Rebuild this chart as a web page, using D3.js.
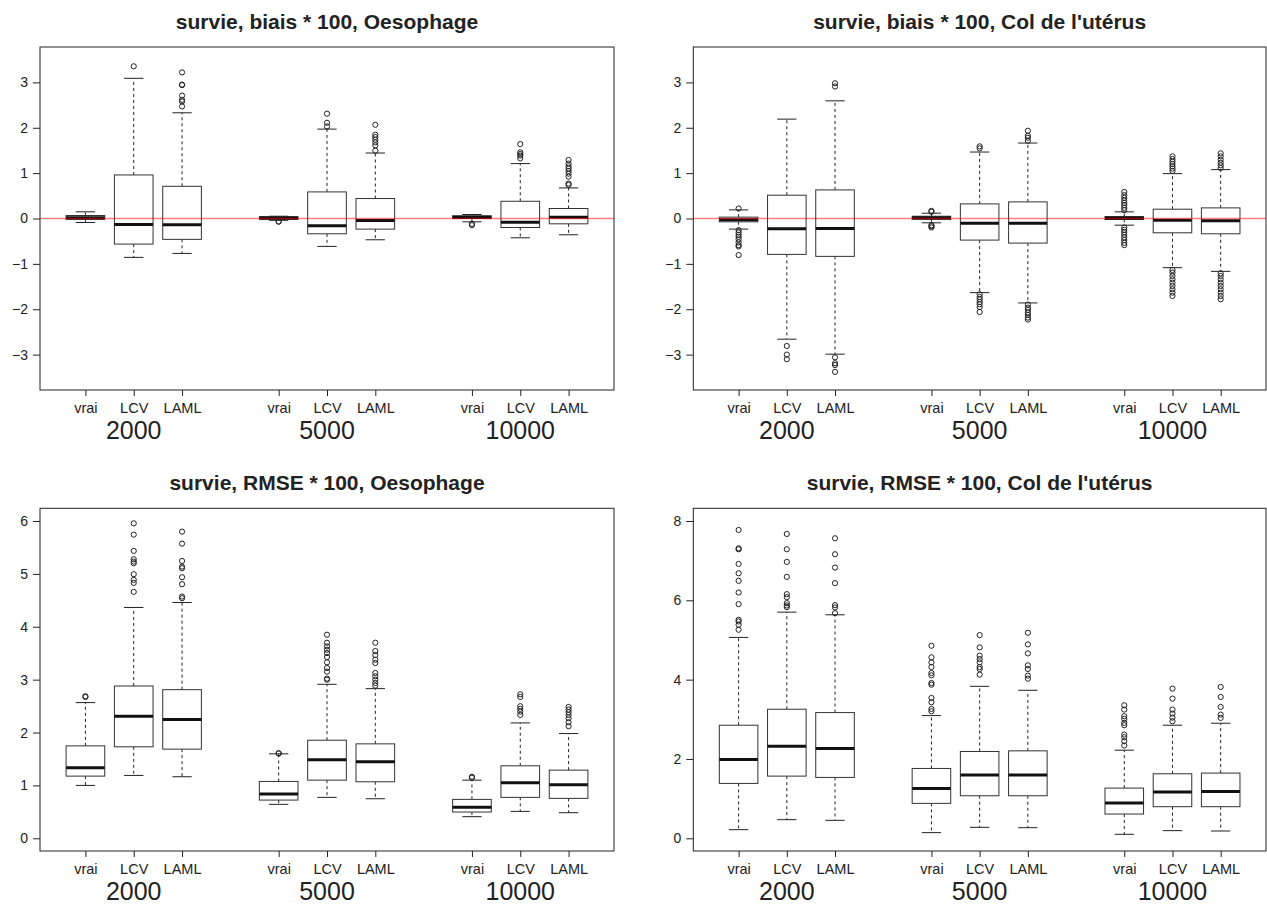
<!DOCTYPE html>
<html><head><meta charset="utf-8">
<script src="https://cdn.jsdelivr.net/npm/d3@7"></script>
<style>
body{margin:0;background:#fff;}
svg text{font-family:"Liberation Sans",Arial,Helvetica,sans-serif;fill:#222;}
</style></head>
<body><svg id="chart" width="1267" height="905"></svg>
<script>
// ---- categories ----
const methods = ["vrai", "LCV", "LAML"];
const sizes = ["2000", "5000", "10000"];
const titles = [
  "survie, biais * 100, Oesophage",
  "survie, biais * 100, Col de l'utérus",
  "survie, RMSE * 100, Oesophage",
  "survie, RMSE * 100, Col de l'utérus"
];
const biaisTicks = [-3, -2, -1, 0, 1, 2, 3];
const rmseOesoTicks = [0, 1, 2, 3, 4, 5, 6];
const rmseColTicks = [0, 2, 4, 6, 8];

// ---- box stats: [lower whisker, Q1, median, Q3, upper whisker] in order 2000(vrai,LCV,LAML), 5000(...), 10000(...) ----
const oesoBiaisBoxes = [
  [-0.088, -0.02, 0.015, 0.066, 0.147],
  [-0.857, -0.564, -0.13, 0.96, 3.09],
  [-0.77, -0.46, -0.14, 0.71, 2.33],
  [-0.04, -0.02, 0.01, 0.04, 0.05],
  [-0.615, -0.337, -0.16, 0.586, 1.97],
  [-0.469, -0.234, -0.044, 0.44, 1.443],
  [-0.073, 0.0, 0.03, 0.06, 0.088],
  [-0.425, -0.198, -0.08, 0.38, 1.21],
  [-0.359, -0.117, 0.03, 0.22, 0.674]
];
const oesoBiaisOut = [
  [],
  [3.355],
  [3.22, 2.94, 2.95, 2.71, 2.615, 2.58, 2.47],
  [-0.066, -0.07],
  [2.31, 2.11, 2.03],
  [2.066, 1.846, 1.795, 1.736, 1.678, 1.612, 1.495],
  [-0.117, -0.147],
  [1.64, 1.458, 1.42, 1.385, 1.326],
  [1.29, 1.21, 1.15, 1.10, 1.048, 0.989, 0.923, 0.769, 0.74]
];
const colBiaisBoxes = [
  [-0.234, -0.073, -0.03, 0.03, 0.19],
  [-2.66, -0.791, -0.227, 0.513, 2.19],
  [-2.99, -0.835, -0.22, 0.63, 2.593],
  [-0.095, -0.02, 0.015, 0.05, 0.117],
  [-1.634, -0.476, -0.103, 0.322, 1.465],
  [-1.861, -0.542, -0.103, 0.366, 1.663],
  [-0.147, -0.022, 0.007, 0.044, 0.147],
  [-1.084, -0.315, -0.037, 0.205, 0.989],
  [-1.165, -0.337, -0.051, 0.234, 1.077]
];
const colBiaisOut = [
  [0.22, -0.256, -0.308, -0.359, -0.403, -0.46, -0.527, -0.586, -0.615, -0.806],
  [-2.81, -3.0, -3.1],
  [2.98, 2.91, -3.06, -3.19, -3.23, -3.38],
  [0.168, 0.147, -0.147, -0.17, -0.198],
  [1.59, 1.546, -1.67, -1.73, -1.78, -1.84, -1.89, -1.95, -2.06],
  [1.934, 1.824, 1.78, 1.714, -1.897, -1.963, -2.015, -2.073, -2.125, -2.183, -2.227],
  [0.586, 0.513, 0.454, 0.396, 0.344, 0.293, 0.234, 0.183, -0.198, -0.249, -0.3, -0.359, -0.418, -0.476, -0.535, -0.586],
  [1.37, 1.31, 1.253, 1.2, 1.15, 1.1, 1.048, -1.136, -1.194, -1.267, -1.34, -1.414, -1.487, -1.56, -1.634, -1.707],
  [1.436, 1.37, 1.297, 1.23, 1.172, 1.114, -1.209, -1.267, -1.34, -1.414, -1.487, -1.56, -1.634, -1.707, -1.78]
];
const oesoRmseBoxes = [
  [1.0, 1.176, 1.333, 1.748, 2.566],
  [1.189, 1.73, 2.308, 2.88, 4.365],
  [1.164, 1.686, 2.245, 2.811, 4.459],
  [0.642, 0.723, 0.836, 1.075, 1.597],
  [0.774, 1.1, 1.484, 1.855, 2.912],
  [0.748, 1.069, 1.447, 1.786, 2.83],
  [0.409, 0.497, 0.585, 0.736, 1.1],
  [0.509, 0.774, 1.05, 1.371, 2.182],
  [0.484, 0.755, 1.013, 1.289, 1.981]
];
const oesoRmseOut = [
  [2.686, 2.673],
  [5.956, 5.742, 5.434, 5.277, 5.233, 5.2, 4.994, 4.887, 4.83, 4.66],
  [5.799, 5.572, 5.245, 5.138, 5.107, 4.937, 4.805, 4.572, 4.54],
  [1.61, 1.604],
  [3.849, 3.698, 3.629, 3.566, 3.503, 3.428, 3.327, 3.22, 3.151, 3.019, 3.0],
  [3.698, 3.541, 3.465, 3.377, 3.314, 3.126, 3.063, 3.0, 2.937, 2.887],
  [1.164, 1.145],
  [2.723, 2.673, 2.497, 2.447, 2.396, 2.333],
  [2.484, 2.434, 2.384, 2.333, 2.27, 2.195, 2.12]
];
const colRmseBoxes = [
  [0.218, 1.384, 1.987, 2.851, 5.065],
  [0.47, 1.568, 2.323, 3.254, 5.702],
  [0.453, 1.535, 2.264, 3.17, 5.635],
  [0.143, 0.881, 1.258, 1.761, 3.094],
  [0.277, 1.073, 1.593, 2.189, 3.832],
  [0.268, 1.073, 1.593, 2.205, 3.732],
  [0.101, 0.612, 0.889, 1.266, 2.222],
  [0.193, 0.797, 1.166, 1.627, 2.851],
  [0.184, 0.797, 1.182, 1.644, 2.901]
];
const colRmseOut = [
  [7.774, 7.312, 7.287, 6.918, 6.683, 6.491, 6.197, 5.904, 5.509, 5.467, 5.384, 5.258],
  [7.673, 7.287, 6.969, 6.591, 6.155, 6.08, 5.929, 5.87, 5.828],
  [7.564, 7.161, 6.826, 6.432, 5.878, 5.82, 5.677],
  [4.855, 4.562, 4.436, 4.319, 4.168, 4.109, 3.916, 3.874, 3.539, 3.43, 3.262, 3.203],
  [5.124, 4.813, 4.604, 4.52, 4.436, 4.319, 4.268, 4.126],
  [5.182, 4.889, 4.662, 4.361, 4.268, 4.101, 4.025],
  [3.354, 3.245, 3.078, 3.01, 2.91, 2.851, 2.616, 2.549, 2.449, 2.34],
  [3.774, 3.522, 3.245, 3.145, 3.044, 2.952],
  [3.816, 3.564, 3.312, 3.119, 3.036]
];

// ---- layout ----
const panels = [
  {title: titles[0], boxes: oesoBiaisBoxes, outs: oesoBiaisOut, ylim: [-3.78, 3.78], ticks: biaisTicks, ref: true,  left: 40,    right: 614,  top: 47,    bottom: 390},
  {title: titles[1], boxes: colBiaisBoxes,  outs: colBiaisOut,  ylim: [-3.78, 3.78], ticks: biaisTicks, ref: true,  left: 693.3, right: 1266, top: 47,    bottom: 390},
  {title: titles[2], boxes: oesoRmseBoxes,  outs: oesoRmseOut,  ylim: [-0.24, 6.24], ticks: rmseOesoTicks, ref: false, left: 40,  right: 614,  top: 508.3, bottom: 851},
  {title: titles[3], boxes: colRmseBoxes,   outs: colRmseOut,   ylim: [-0.32, 8.32], ticks: rmseColTicks,  ref: false, left: 693.3, right: 1266, top: 508.3, bottom: 851}
];

const svg = d3.select("#chart");
const ink = "#222";

panels.forEach(p => {
  const g = svg.append("g");
  const x = d3.scaleLinear().domain([0.06, 11.94]).range([p.left, p.right]);
  const y = d3.scaleLinear().domain(p.ylim).range([p.bottom, p.top]);
  const pos = i => 1 + Math.floor(i / 3) * 4 + (i % 3);

  // title
  g.append("text").attr("x", (p.left + p.right) / 2).attr("y", p.top - 18)
    .attr("text-anchor", "middle").attr("font-weight", "bold").attr("font-size", 21)
    .text(p.title);

  // y axis
  const yAxis = d3.axisLeft(y).tickValues(p.ticks).tickSize(7).tickPadding(5)
    .tickFormat(d => d < 0 ? "\u2212" + Math.abs(d) : d);
  const ya = g.append("g").attr("transform", `translate(${p.left},0)`).call(yAxis);
  ya.select(".domain").remove();
  ya.selectAll(".tick line").attr("stroke", ink);
  ya.selectAll(".tick text").attr("font-size", 14).attr("fill", "#222");

  // x axis
  const xticks = d3.range(9).map(pos);
  const xAxis = d3.axisBottom(x).tickValues(xticks).tickSize(6).tickPadding(7)
    .tickFormat((d, i) => methods[i % 3]);
  const xa = g.append("g").attr("transform", `translate(0,${p.bottom})`).call(xAxis);
  xa.select(".domain").remove();
  xa.selectAll(".tick line").attr("stroke", ink);
  xa.selectAll(".tick text").attr("font-size", 14.5).attr("fill", "#222");

  // group labels
  g.selectAll(".grp").data(sizes).join("text")
    .attr("x", (d, i) => x(2 + i * 4)).attr("y", p.bottom + 49)
    .attr("text-anchor", "middle").attr("font-size", 25).text(d => d);

  // boxes
  const bw = 0.4, cw = 0.2;
  p.boxes.forEach((b, i) => {
    const c = pos(i);
    const [lo, q1, med, q3, hi] = b;
    const bg = g.append("g");
    bg.append("line").attr("x1", x(c)).attr("x2", x(c)).attr("y1", y(q3)).attr("y2", y(hi))
      .attr("stroke", ink).attr("stroke-dasharray", "3,3");
    bg.append("line").attr("x1", x(c)).attr("x2", x(c)).attr("y1", y(q1)).attr("y2", y(lo))
      .attr("stroke", ink).attr("stroke-dasharray", "3,3");
    [lo, hi].forEach(v => bg.append("line").attr("x1", x(c - cw)).attr("x2", x(c + cw))
      .attr("y1", y(v)).attr("y2", y(v)).attr("stroke", ink));
    bg.append("rect").attr("x", x(c - bw)).attr("width", x(c + bw) - x(c - bw))
      .attr("y", y(q3)).attr("height", Math.max(0.5, y(q1) - y(q3)))
      .attr("fill", "#fff").attr("stroke", "#333");
    bg.append("line").attr("x1", x(c - bw)).attr("x2", x(c + bw)).attr("y1", y(med)).attr("y2", y(med))
      .attr("stroke", "#111").attr("stroke-width", 3);
    bg.selectAll("circle").data(p.outs[i]).join("circle")
      .attr("cx", x(c)).attr("cy", d => y(d)).attr("r", 2.6)
      .attr("fill", "none").attr("stroke", ink).attr("stroke-width", 1);
  });

  if (p.ref) {
    g.append("line").attr("x1", p.left).attr("x2", p.right).attr("y1", y(0)).attr("y2", y(0))
      .attr("stroke", "red").attr("stroke-opacity", 0.5).attr("stroke-width", 1.5);
  }

  // frame
  g.append("rect").attr("x", p.left).attr("y", p.top).attr("width", p.right - p.left)
    .attr("height", p.bottom - p.top).attr("fill", "none").attr("stroke", ink).attr("stroke-width", 1);
});
</script></body></html>
